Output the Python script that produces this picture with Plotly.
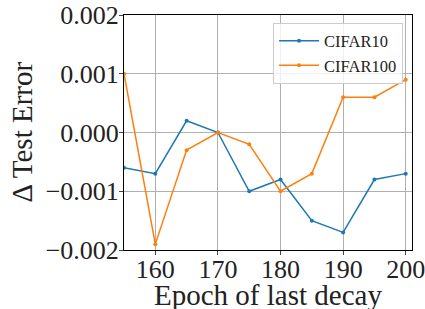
import plotly.graph_objects as go

epochs = [155, 160, 165, 170, 175, 180, 185, 190, 195, 200]
cifar10 = [-0.0006, -0.0007, 0.0002, 0.0, -0.0010, -0.0008, -0.0015, -0.0017, -0.0008, -0.0007]
cifar100 = [0.0010, -0.0019, -0.0003, 0.0, -0.0002, -0.0010, -0.0007, 0.0006, 0.0006, 0.0009]
x_ticks = [160, 170, 180, 190, 200]
y_ticks = [-0.002, -0.001, 0.0, 0.001, 0.002]
y_tick_text = ["\u22120.002", "\u22120.001", "0.000", "0.001", "0.002"]
x_title = "Epoch of last decay"
y_title = "\u0394 Test Error"

font_family = "Liberation Serif, DejaVu Serif, serif"

fig = go.Figure()
fig.add_trace(go.Scatter(x=epochs, y=cifar10, mode="lines+markers", name="CIFAR10",
                         line=dict(color="#1f77b4", width=1.5),
                         marker=dict(size=4, color="#1f77b4")))
fig.add_trace(go.Scatter(x=epochs, y=cifar100, mode="lines+markers", name="CIFAR100",
                         line=dict(color="#ff7f0e", width=1.5),
                         marker=dict(size=4, color="#ff7f0e")))

fig.update_layout(
    width=425, height=309,
    margin=dict(l=124, r=13, t=15, b=59),
    paper_bgcolor="white", plot_bgcolor="white",
    font=dict(family=font_family, color="#222"),
    showlegend=True,
    legend=dict(x=0.969, y=0.968, xanchor="right", yanchor="top",
                bgcolor="rgba(255,255,255,0.8)", bordercolor="#cccccc", borderwidth=1,
                tracegroupgap=0, itemwidth=40,
                font=dict(size=16.5, family=font_family)),
    xaxis=dict(range=[155, 201], tickvals=x_ticks, ticks="outside", ticklen=4,
               tickfont=dict(size=26), showgrid=True, gridcolor="#b0b0b0", gridwidth=1,
               showline=True, linecolor="black", linewidth=1, mirror=True, zeroline=False,
               automargin=False, ticklabeloverflow="allow", ticklabelstandoff=-8),
    yaxis=dict(range=[-0.002, 0.002], tickvals=y_ticks, ticktext=y_tick_text, ticks="outside",
               ticklen=4, tickfont=dict(size=26), showgrid=True, gridcolor="#b0b0b0", gridwidth=1,
               showline=True, linecolor="black", linewidth=1, mirror=True, zeroline=False,
               automargin=False, ticklabeloverflow="allow", ticklabelstandoff=-5),
    annotations=[
        dict(text=x_title, xref="paper", yref="paper", x=0.5, y=0, xanchor="center",
             yanchor="middle", yshift=-45, showarrow=False, font=dict(size=29, family=font_family)),
        dict(text=y_title, xref="paper", yref="paper", x=0, y=0.5, xanchor="center",
             yanchor="middle", xshift=-103, textangle=-90, showarrow=False,
             font=dict(size=29, family=font_family)),
    ],
)

# remove the page's default body margin so the figure fills the window exactly
fig.write_html("out.html", config={"displayModeBar": False},
               post_script="document.body.style.margin='0';")
